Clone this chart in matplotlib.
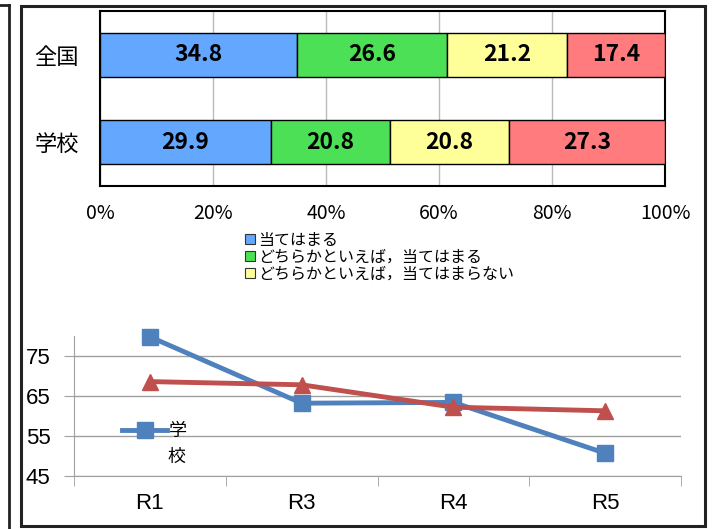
import matplotlib
matplotlib.use('Agg')
import matplotlib.pyplot as plt
from matplotlib.patches import Patch, Rectangle
from matplotlib.lines import Line2D
from matplotlib.ticker import FixedLocator

plt.rcParams['font.family'] = ['Noto Sans CJK JP', 'DejaVu Sans']

# bar chart data
groups = ['学校', '全国']
answers = ['当てはまる', 'どちらかといえば，当てはまる',
           'どちらかといえば，当てはまらない', '当てはまらない']
shares = {
    '全国': [34.8, 26.6, 21.2, 17.4],
    '学校': [29.9, 20.8, 20.8, 27.3],
}
bar_colors = ['#63A7FF', '#4CE056', '#FFFF99', '#FF7B7E']
pct_ticks = [0, 20, 40, 60, 80, 100]

# line chart data
years = ['R1', 'R3', 'R4', 'R5']
school = [79.8, 63.2, 63.4, 50.7]
nation = [68.6, 67.8, 62.2, 61.3]
line_ticks = [45, 55, 65, 75]

fig = plt.figure(figsize=(7.19, 5.29), dpi=100)
W, H = 719, 529
latin = ['Liberation Sans Narrow', 'Liberation Sans', 'DejaVu Sans']


def fx(px):
    return px / W


def fy(px):
    return 1 - px / H


# frames
fig.add_artist(Rectangle((fx(21), fy(526)), fx(705) - fx(21), fy(6) - fy(526),
                         transform=fig.transFigure, fill=False,
                         edgecolor='#222222', linewidth=2.2))
fig.add_artist(Line2D([fx(8.5), fx(8.5)], [fy(5), fy(529)],
                      transform=fig.transFigure, color='#222222', linewidth=2))
fig.add_artist(Line2D([0, fx(8.5)], [fy(5), fy(5)],
                      transform=fig.transFigure, color='#222222', linewidth=2))

# 100% stacked bars
ax = fig.add_axes([fx(100), fy(186), fx(665) - fx(100), fy(11) - fy(186)])
for y, g in enumerate(groups):
    total = sum(shares[g])
    left = 0
    for i, v in enumerate(shares[g]):
        w = v / total * 100
        ax.barh(y, w, left=left, height=0.5, color=bar_colors[i],
                edgecolor='black', linewidth=1, zorder=3)
        ax.text(left + w / 2, y, '{0:.1f}'.format(v), ha='center',
                va='center', fontsize=16.5, fontweight='bold', zorder=4)
        left += w
ax.set_xlim(0, 100)
ax.set_ylim(-0.5, 1.5)
ax.set_xticks(pct_ticks)
ax.set_xticklabels(['{0}%'.format(t) for t in pct_ticks], fontsize=14)
ax.set_yticks(range(len(groups)))
ax.set_yticklabels(groups, fontsize=16)
ax.tick_params(length=0, pad=12)
ax.tick_params(axis='y', pad=15)
ax.grid(axis='x', color='#BBBBBB', linewidth=1, zorder=0)
for s in ax.spines.values():
    s.set_linewidth(1.5)

handles = [Patch(facecolor=c, edgecolor='#333333', linewidth=0.8)
           for c in bar_colors[:3]]
fig.legend(handles, answers[:3], loc='upper left',
           bbox_to_anchor=(fx(245), fy(232)), frameon=False, fontsize=11.5,
           handlelength=0.6, handleheight=0.6, handletextpad=0.25,
           labelspacing=0, borderpad=0, borderaxespad=0)

# line chart
ax2 = fig.add_axes([fx(74), fy(476), fx(681) - fx(74), fy(336) - fy(476)])
xs = range(len(years))
ax2.plot(xs, school, color='#4F81BD', linewidth=3.5, marker='s',
         markersize=12, zorder=3, label='学', clip_on=False)
ax2.plot(xs, nation, color='#C0504D', linewidth=3.5, marker='^',
         markersize=12, zorder=3, clip_on=False)
ax2.set_xlim(-0.5, len(years) - 0.5)
ax2.set_ylim(45, 80)
ax2.set_yticks(line_ticks)
ax2.set_yticklabels([str(t) for t in line_ticks], fontsize=16, family=latin)
ax2.set_xticks(list(xs))
ax2.set_xticklabels(years, fontsize=16, family=latin)
ax2.xaxis.set_minor_locator(FixedLocator([i - 0.5 for i in range(len(years) + 1)]))
ax2.tick_params(axis='x', which='major', length=0, pad=12)
ax2.tick_params(axis='x', which='minor', length=7, color='#A0A0A0')
ax2.tick_params(axis='y', length=7, color='#A0A0A0', pad=10)
ax2.grid(axis='y', color='#A0A0A0', linewidth=1, zorder=0)
for k in ('top', 'right'):
    ax2.spines[k].set_visible(False)
for k in ('left', 'bottom'):
    ax2.spines[k].set_color('#A0A0A0')
ax2.legend(loc='center left', bbox_to_anchor=(fx(122), fy(431)),
           bbox_transform=fig.transFigure, frameon=False, fontsize=13,
           handlelength=2.5, handletextpad=0.1, borderpad=0, borderaxespad=0)
# the legend label wraps onto a second line
fig.text(fx(167), fy(457), '校', fontsize=13, ha='left', va='center')

fig.savefig('out.png', dpi=100)
